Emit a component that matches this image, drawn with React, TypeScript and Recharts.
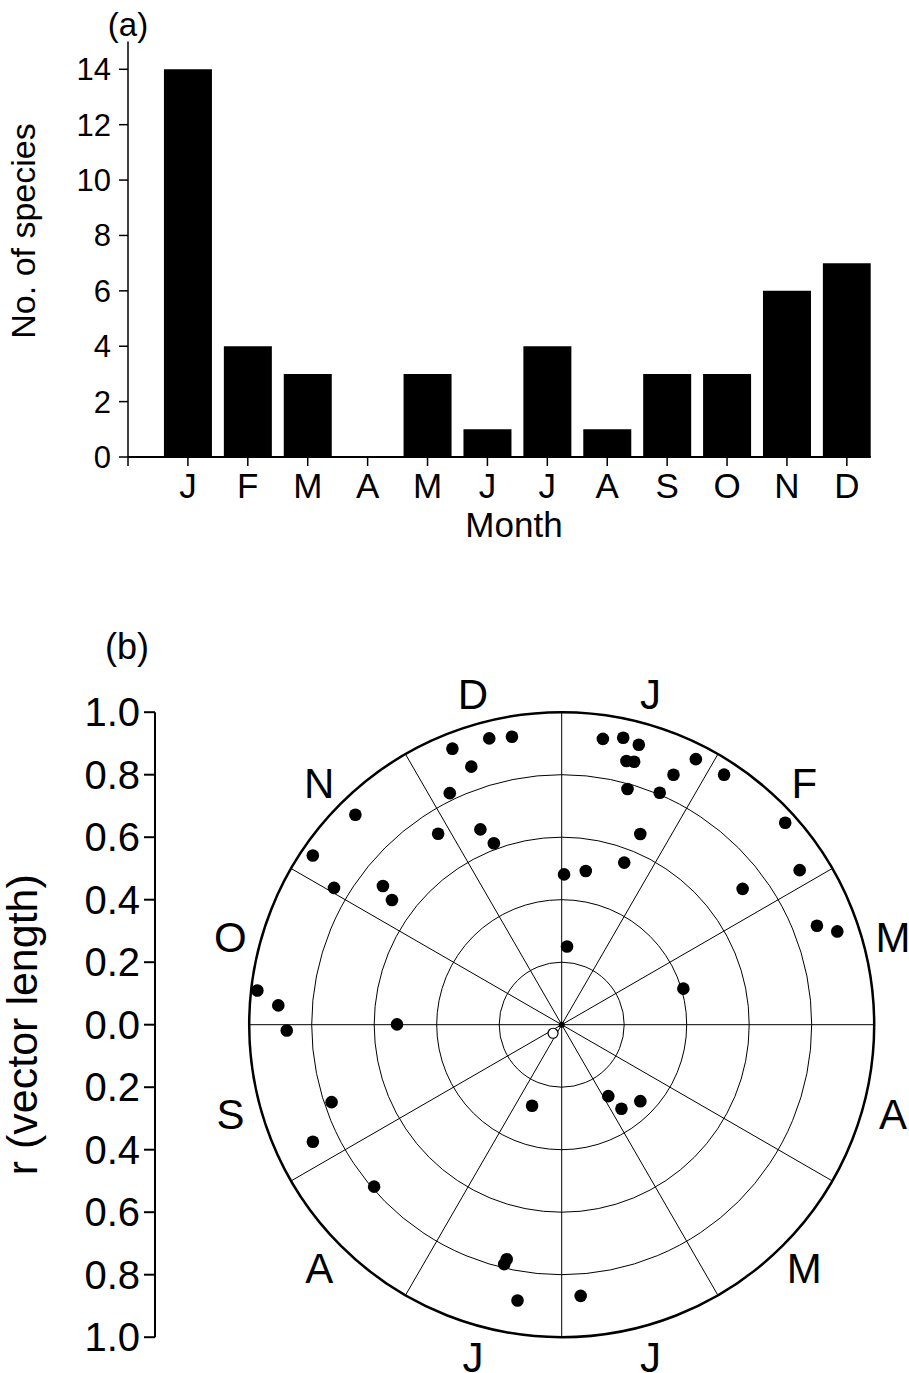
import React from 'react';
import {
  BarChart,
  Bar,
  XAxis,
  YAxis,
  Label,
  ScatterChart,
  Scatter,
  ReferenceDot,
  RadarChart,
  PolarGrid,
  PolarAngleAxis,
  PolarRadiusAxis,
} from 'recharts';

const FONT = '"Liberation Sans", Arial, Helvetica, sans-serif';

// ---------- Panel (a) data ----------
const monthLetters = ['J', 'F', 'M', 'A', 'M', 'J', 'J', 'A', 'S', 'O', 'N', 'D'];
const monthPositions = [1, 2, 3, 4, 5, 6, 7, 8, 9, 10, 11, 12];
const speciesCounts = [14, 4, 3, 0, 3, 1, 4, 1, 3, 3, 6, 7];
const speciesTicks = [0, 2, 4, 6, 8, 10, 12, 14];
const monthAxisTicks = [0, 1, 2, 3, 4, 5, 6, 7, 8, 9, 10, 11, 12];

// ---------- Panel (b) data ----------
// mean flowering angle (degrees, clockwise from 1 January at top) and vector length r
const speciesAngleDeg = [
  8.2, 12.1, 15.4, 13.8, 15.4, 26.8, 24.1, 15.6, 22.9, 22.4, 21.1, 8.9, 0.9, 3.9,
  33.0, 47.9, 57.0, 53.1,
  68.8, 71.3, 73.5,
  134.2, 144.6, 146.9,
  176.0,
  189.1, 193.2, 193.5, 200.1,
  229.2,
  244.8, 251.4, 268.8,
  270.1, 273.9, 276.4,
  301.0, 304.2, 306.3, 307.8, 315.5,
  327.1, 334.2, 337.4, 338.4, 339.5, 340.7, 345.8, 350.2,
];
const speciesR = [
  0.924, 0.939, 0.929, 0.869, 0.873, 0.952, 0.876, 0.783, 0.806, 0.66, 0.556, 0.498, 0.481, 0.251,
  0.954, 0.964, 0.908, 0.724,
  0.876, 0.931, 0.406,
  0.351, 0.33, 0.273,
  0.87,
  0.894, 0.771, 0.788, 0.276,
  0.793,
  0.88, 0.777, 0.88,
  0.527, 0.909, 0.98,
  0.85, 0.963, 0.674, 0.724, 0.942,
  0.728, 0.823, 0.677, 0.95, 0.62, 0.875, 0.945, 0.935,
];
const meanAngleDeg = [225.3];
const meanR = [0.039];
const rAxisTicks = [-1, -0.8, -0.6, -0.4, -0.2, 0, 0.2, 0.4, 0.6, 0.8, 1];
const gridRadii = [0.2, 0.4, 0.6, 0.8, 1.0];

// ---------- layout ----------
const W = 909;
const A_H = 560;
const B_TOP = 600;
const B_H = 773;
const CX = 561.7;
const CY = 424.7; // inside panel (b) charts
const R_PX = 312.5;
const AXIS_X = 155;
const LABEL_R = 343;
const X_MIN = 1 - (CX + R_PX - AXIS_X) / R_PX;

const barData = monthPositions.map((p, i) => ({ pos: p, count: speciesCounts[i] }));
const toXY = (a: number, r: number) => ({
  x: r * Math.sin((a * Math.PI) / 180),
  y: r * Math.cos((a * Math.PI) / 180),
});
const speciesPoints = speciesAngleDeg.map((a, i) => toXY(a, speciesR[i]));
const meanPoints = meanAngleDeg.map((a, i) => toXY(a, meanR[i]));
const sectorData = monthLetters.map((m, i) => ({ key: i, label: m }));

const FilledDot = (p: any) => <circle cx={p.cx} cy={p.cy} r={6.3} fill="#000" />;
const OpenDot = (p: any) => (
  <circle cx={p.cx} cy={p.cy} r={5} fill="#fff" stroke="#000" strokeWidth={1.2} />
);

const MonthTick = (props: any) => {
  const { x, y, payload } = props;
  const ccx = typeof props.cx === 'number' ? props.cx : CX;
  const ccy = typeof props.cy === 'number' ? props.cy : CY;
  const dx = x - ccx;
  const dy = y - ccy;
  const len = Math.hypot(dx, dy) || 1;
  const px = ccx + (dx / len) * LABEL_R;
  const py = ccy + (dy / len) * LABEL_R;
  return (
    <text x={px} y={py} dy="0.38em" textAnchor="middle" fontSize={42} fontFamily={FONT} fill="#000">
      {monthLetters[payload.value]}
    </text>
  );
};

const textContent = (x: number, y: number, text: string, size: number, angle = 0) => () => (
  <text
    x={x}
    y={y}
    textAnchor="middle"
    fontSize={size}
    fontFamily={FONT}
    fill="#000"
    transform={angle ? `rotate(${angle}, ${x}, ${y})` : undefined}
  >
    {text}
  </text>
);

export default function App() {
  return (
    <div style={{ position: 'absolute', left: 0, top: 0, width: W, height: 1373, background: '#fff' }}>
      {/* Panel (a) */}
      <div style={{ position: 'absolute', left: 0, top: 0 }}>
        <BarChart width={W} height={A_H} data={barData} margin={{ top: 41.6, right: 38.2, bottom: 3, left: 0 }}>
          <XAxis
            dataKey="pos"
            type="number"
            domain={[0, 12.4]}
            ticks={monthAxisTicks}
            interval={0}
            allowDataOverflow
            tickFormatter={(v: number) => (v >= 1 ? monthLetters[v - 1] : '')}
            tickSize={9}
            tickMargin={7}
            height={100}
            axisLine={{ stroke: '#000', strokeWidth: 2 }}
            tickLine={{ stroke: '#000', strokeWidth: 1.5 }}
            tick={{ fill: '#000', fontSize: 35, fontFamily: FONT }}
          >
            <Label content={textContent(514, 537, 'Month', 35)} />
          </XAxis>
          <YAxis
            type="number"
            domain={[0, 15]}
            ticks={speciesTicks}
            interval={0}
            allowDataOverflow
            width={128}
            tickSize={9}
            tickMargin={8}
            axisLine={{ stroke: '#000', strokeWidth: 1.5 }}
            tickLine={{ stroke: '#000', strokeWidth: 1.5 }}
            tick={{ fill: '#000', fontSize: 31, fontFamily: FONT }}
          >
            <Label content={textContent(35, 231, 'No. of species', 34, -90)} />
            <Label content={textContent(128, 36, '(a)', 33)} />
          </YAxis>
          <Bar dataKey="count" fill="#000" barSize={48} isAnimationActive={false} />
        </BarChart>
      </div>

      {/* Panel (b): polar grid */}
      <div style={{ position: 'absolute', left: 0, top: B_TOP }}>
        <RadarChart
          width={W}
          height={B_H}
          cx={CX}
          cy={CY}
          innerRadius={0}
          outerRadius={R_PX}
          startAngle={90}
          endAngle={-270}
          data={sectorData}
          margin={{ top: 0, right: 0, bottom: 0, left: 0 }}
        >
          <PolarGrid
            gridType="circle"
            stroke="#000"
            strokeWidth={1}
            polarRadius={gridRadii.map((v) => v * R_PX)}
          />
          <PolarAngleAxis
            dataKey="key"
            tick={false}
            tickLine={false}
            axisLineType="circle"
            axisLine={{ stroke: '#000', strokeWidth: 2.5 }}
          />
          <PolarRadiusAxis
            type="number"
            domain={[0, 1]}
            allowDataOverflow
            tickCount={6}
            tick={false}
            axisLine={false}
          />
        </RadarChart>
      </div>

      {/* Panel (b): month labels */}
      <div style={{ position: 'absolute', left: 0, top: B_TOP }}>
        <RadarChart
          width={W}
          height={B_H}
          cx={CX}
          cy={CY}
          innerRadius={0}
          outerRadius={R_PX}
          startAngle={75}
          endAngle={-285}
          data={sectorData}
          margin={{ top: 0, right: 0, bottom: 0, left: 0 }}
        >
          <PolarAngleAxis dataKey="key" tick={<MonthTick />} tickLine={false} axisLine={false} />
        </RadarChart>
      </div>

      {/* Panel (b): points and r axis */}
      <div style={{ position: 'absolute', left: 0, top: B_TOP }}>
        <ScatterChart
          width={W}
          height={B_H}
          margin={{ top: CY - R_PX, right: W - (CX + R_PX), bottom: B_H - (CY + R_PX), left: 0 }}
        >
          <XAxis type="number" dataKey="x" domain={[X_MIN, 1]} allowDataOverflow hide />
          <YAxis
            type="number"
            dataKey="y"
            domain={[-1, 1]}
            ticks={rAxisTicks}
            interval={0}
            allowDataOverflow
            width={AXIS_X}
            tickSize={11}
            tickMargin={4}
            tickFormatter={(v: number) => Math.abs(v).toFixed(1)}
            axisLine={{ stroke: '#000', strokeWidth: 2 }}
            tickLine={{ stroke: '#000', strokeWidth: 2 }}
            tick={{ fill: '#000', fontSize: 40, fontFamily: FONT }}
          >
            <Label content={textContent(37, CY, 'r (vector length)', 43, -90)} />
            <Label content={textContent(127, 59, '(b)', 36)} />
          </YAxis>
          <ReferenceDot x={0} y={0} r={3} fill="#000" stroke="none" />
          <Scatter data={speciesPoints} shape={FilledDot} isAnimationActive={false} />
          <Scatter data={meanPoints} shape={OpenDot} isAnimationActive={false} />
        </ScatterChart>
      </div>
    </div>
  );
}
